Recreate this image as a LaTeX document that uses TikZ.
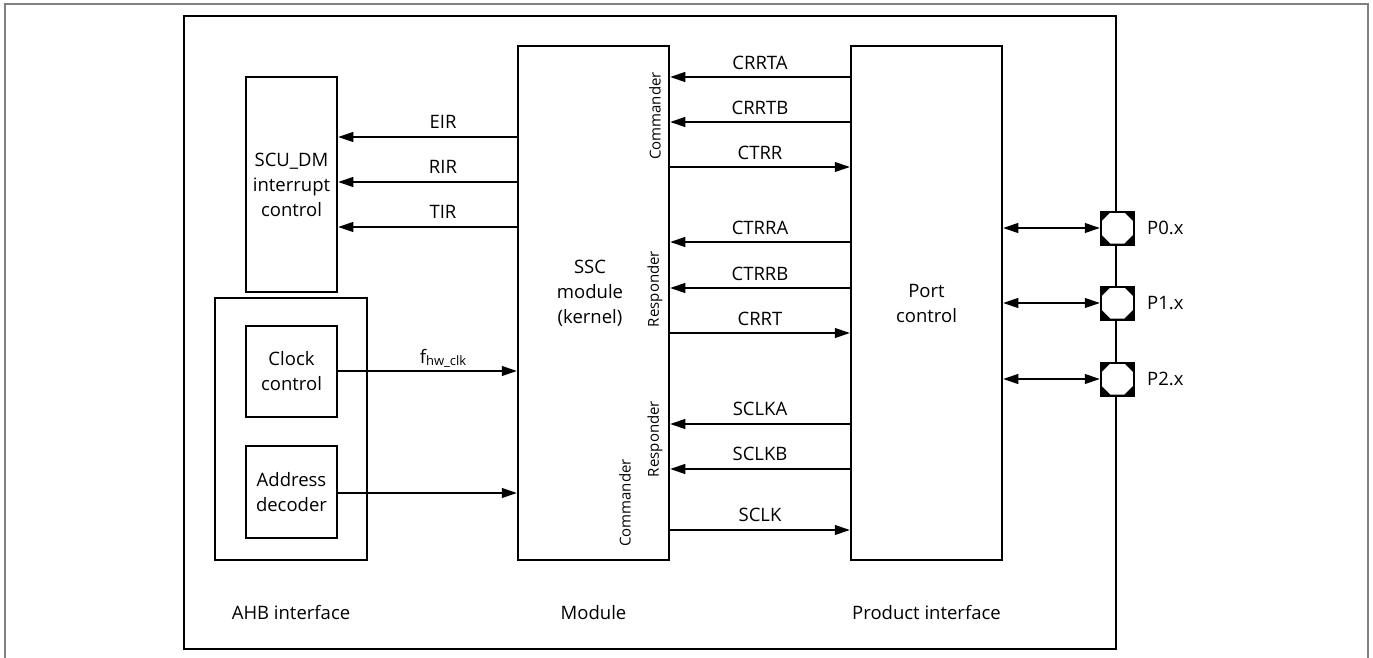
\documentclass[tikz,border=0pt]{standalone}
\usepackage{fontspec}
\setmainfont{Open Sans}
\usetikzlibrary{arrows.meta}
\begin{document}
\begin{tikzpicture}[x=1pt,y=-1pt,
  box/.style={draw, line width=2.5pt, inner sep=0pt, align=center, font=\fontsize{18.5}{25}\selectfont},
  txt/.style={inner sep=0pt, align=center, font=\fontsize{18.5}{25}\selectfont},
  lbl/.style={inner sep=0pt, font=\fontsize{18.5}{22}\selectfont},
  rot/.style={inner sep=0pt, rotate=90, font=\fontsize{15}{18}\selectfont},
  sig/.style={line width=1.2pt, -{Triangle[length=15pt,width=10pt]}},
  bidir/.style={line width=1.2pt, {Triangle[length=15pt,width=10pt]}-{Triangle[length=15pt,width=10pt]}},
  pad/.style={draw, line width=2pt, fill=black, minimum size=33pt, inner sep=0pt,
    path picture={\fill[white]
      ([shift={(-7,-15.5)}]path picture bounding box.center) --
      ([shift={(7,-15.5)}]path picture bounding box.center) --
      ([shift={(15.5,-7)}]path picture bounding box.center) --
      ([shift={(15.5,7)}]path picture bounding box.center) --
      ([shift={(7,15.5)}]path picture bounding box.center) --
      ([shift={(-7,15.5)}]path picture bounding box.center) --
      ([shift={(-15.5,7)}]path picture bounding box.center) --
      ([shift={(-15.5,-7)}]path picture bounding box.center) -- cycle;}},
]
\useasboundingbox (0,0) rectangle (1373,658);
% outer gray frame
\draw[line width=1.5pt, black!50] (5,658) -- (5,4) -- (1368,4) -- (1368,658);
% main box
\node[box, minimum width=932pt, minimum height=633pt] (main) at (650,332.5) {};
% blocks
\node[box, minimum width=91pt, minimum height=215pt] (scu) at (291.5,184.5) {SCU\_DM\\interrupt\\control};
\node[box, minimum width=152pt, minimum height=262pt] (ahb) at (291,429) {};
\node[box, minimum width=91pt, minimum height=91pt] (clk) at (291.5,371.5) {Clock\\control};
\node[box, minimum width=91pt, minimum height=92pt] (adr) at (291.5,492) {Address\\decoder};
\node[box, minimum width=151pt, minimum height=514pt] (ssc) at (593.5,303) {};
\node[txt] (ssct) at (590,293) {SSC\\module\\(kernel)};
\node[box, minimum width=151pt, minimum height=514pt] (port) at (926.5,303) {Port\\control};
% rotated labels
\node[rot] (cmd1) at (655,116) {Commander};
\node[rot] (rsp1) at (655,289) {Responder};
\node[rot] (rsp2) at (655,439) {Responder};
\node[rot] (cmd2) at (625,503) {Commander};
% left signals
\draw[sig] (ssc.west |- 0,137) -- (scu.east |- 0,137);
\draw[sig] (ssc.west |- 0,182) -- (scu.east |- 0,182);
\draw[sig] (ssc.west |- 0,227) -- (scu.east |- 0,227);
\node[lbl] (leir) at (443,122) {EIR};
\node[lbl] (lrir) at (443,167) {RIR};
\node[lbl] (ltir) at (443,212) {TIR};
\draw[sig] (clk.east |- 0,371) -- (ssc.west |- 0,371);
\node[lbl, anchor=base] (lclk) at (443,363) {f\raisebox{-0.3ex}{\fontsize{13}{13}\selectfont hw\_clk}};
\draw[sig] (adr.east |- 0,493) -- (ssc.west |- 0,493);
% right signals
\draw[sig] (port.west |- 0,77) -- (ssc.east |- 0,77) node[lbl, midway, yshift=14pt] (l1) {CRRTA};
\draw[sig] (port.west |- 0,122) -- (ssc.east |- 0,122) node[lbl, midway, yshift=14pt] (l2) {CRRTB};
\draw[sig] (ssc.east |- 0,167) -- (port.west |- 0,167) node[lbl, midway, yshift=14pt] (l3) {CTRR};
\draw[sig] (port.west |- 0,242) -- (ssc.east |- 0,242) node[lbl, midway, yshift=14pt] (l4) {CTRRA};
\draw[sig] (port.west |- 0,288) -- (ssc.east |- 0,288) node[lbl, midway, yshift=14pt] (l5) {CTRRB};
\draw[sig] (ssc.east |- 0,333) -- (port.west |- 0,333) node[lbl, midway, yshift=14pt] (l6) {CRRT};
\draw[sig] (port.west |- 0,424) -- (ssc.east |- 0,424) node[lbl, midway, yshift=15pt] (l7) {SCLKA};
\draw[sig] (port.west |- 0,469) -- (ssc.east |- 0,469) node[lbl, midway, yshift=15pt] (l8) {SCLKB};
\draw[sig] (ssc.east |- 0,530) -- (port.west |- 0,530) node[lbl, midway, yshift=15pt] (l9) {SCLK};
% pads
\node[pad] (p0) at (main.east |- 0,228) {};
\node[pad] (p1) at (main.east |- 0,303) {};
\node[pad] (p2) at (main.east |- 0,379) {};
\node[lbl, anchor=west] (lp0) at (1147,228) {P0.x};
\node[lbl, anchor=west] (lp1) at (1147,303) {P1.x};
\node[lbl, anchor=west] (lp2) at (1147,379) {P2.x};
\draw[bidir] (port.east |- p0) -- (p0.west);
\draw[bidir] (port.east |- p1) -- (p1.west);
\draw[bidir] (port.east |- p2) -- (p2.west);
% bottom labels
\node[lbl] (bahb) at (ahb |- 0,613) {AHB interface};
\node[lbl] (bmod) at (ssc |- 0,613) {Module};
\node[lbl] (bpro) at (port |- 0,613) {Product interface};
\end{tikzpicture}
\end{document}
